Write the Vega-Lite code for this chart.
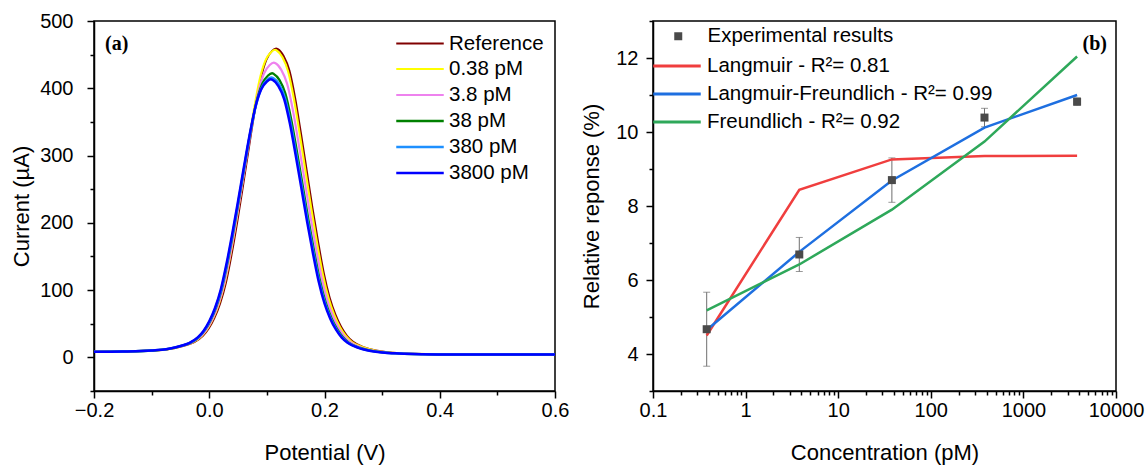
{
  "$schema": "https://vega.github.io/schema/vega-lite/v6.json",
  "background": "white",
  "padding": {"left": 9, "top": 10, "right": 5, "bottom": 5},
  "config": {
    "font": "Liberation Sans",
    "view": {"stroke": "black", "strokeWidth": 1.5},
    "axis": {"domainColor": "black", "domainWidth": 1.5, "tickColor": "black", "tickWidth": 1.5, "labelColor": "black", "titleColor": "black", "labelFont": "Liberation Sans", "titleFont": "Liberation Sans", "labelFontSize": 20, "titleFontSize": 22, "titleFontWeight": "normal", "grid": false, "labelOverlap": false, "labelFlush": false},
    "legend": {"labelFont": "Liberation Sans", "labelColor": "black", "padding": 0, "labelLimit": 500}
  },
  "datasets": {
    "curves": [
      {"sample":"Reference","potential":-0.2,"current":8.2},{"sample":"Reference","potential":-0.141,"current":8.8},{"sample":"Reference","potential":-0.091,"current":10.4},{"sample":"Reference","potential":-0.061,"current":13.5},{"sample":"Reference","potential":-0.041,"current":17.9},{"sample":"Reference","potential":-0.026,"current":22.7},{"sample":"Reference","potential":-0.011,"current":32.0},{"sample":"Reference","potential":-0.001,"current":42.8},{"sample":"Reference","potential":0.009,"current":58.6},{"sample":"Reference","potential":0.019,"current":80.6},{"sample":"Reference","potential":0.029,"current":111.3},{"sample":"Reference","potential":0.039,"current":154.2},{"sample":"Reference","potential":0.049,"current":203.8},{"sample":"Reference","potential":0.059,"current":257.6},{"sample":"Reference","potential":0.069,"current":313.1},{"sample":"Reference","potential":0.079,"current":366.9},{"sample":"Reference","potential":0.089,"current":413.0},{"sample":"Reference","potential":0.099,"current":442.1},{"sample":"Reference","potential":0.109,"current":455.6},{"sample":"Reference","potential":0.116,"current":459.1},{"sample":"Reference","potential":0.119,"current":458.2},{"sample":"Reference","potential":0.129,"current":448.0},{"sample":"Reference","potential":0.139,"current":426.6},{"sample":"Reference","potential":0.149,"current":385.7},{"sample":"Reference","potential":0.159,"current":333.5},{"sample":"Reference","potential":0.169,"current":278.4},{"sample":"Reference","potential":0.179,"current":222.6},{"sample":"Reference","potential":0.189,"current":171.3},{"sample":"Reference","potential":0.199,"current":124.3},{"sample":"Reference","potential":0.209,"current":88.5},{"sample":"Reference","potential":0.219,"current":63.4},{"sample":"Reference","potential":0.229,"current":45.1},{"sample":"Reference","potential":0.239,"current":32.0},{"sample":"Reference","potential":0.249,"current":23.4},{"sample":"Reference","potential":0.269,"current":14.9},{"sample":"Reference","potential":0.289,"current":10.2},{"sample":"Reference","potential":0.309,"current":7.6},{"sample":"Reference","potential":0.339,"current":5.9},{"sample":"Reference","potential":0.379,"current":4.8},{"sample":"Reference","potential":0.429,"current":4.2},{"sample":"Reference","potential":0.5,"current":4.2},{"sample":"Reference","potential":0.6,"current":4.4},
      {"sample":"0.38 pM","potential":-0.2,"current":8.2},{"sample":"0.38 pM","potential":-0.143,"current":8.8},{"sample":"0.38 pM","potential":-0.093,"current":10.4},{"sample":"0.38 pM","potential":-0.063,"current":13.4},{"sample":"0.38 pM","potential":-0.043,"current":17.9},{"sample":"0.38 pM","potential":-0.028,"current":22.6},{"sample":"0.38 pM","potential":-0.013,"current":31.9},{"sample":"0.38 pM","potential":-0.003,"current":42.7},{"sample":"0.38 pM","potential":0.007,"current":58.4},{"sample":"0.38 pM","potential":0.017,"current":80.3},{"sample":"0.38 pM","potential":0.027,"current":110.8},{"sample":"0.38 pM","potential":0.037,"current":153.5},{"sample":"0.38 pM","potential":0.047,"current":202.9},{"sample":"0.38 pM","potential":0.057,"current":256.5},{"sample":"0.38 pM","potential":0.067,"current":311.7},{"sample":"0.38 pM","potential":0.077,"current":365.3},{"sample":"0.38 pM","potential":0.087,"current":411.1},{"sample":"0.38 pM","potential":0.097,"current":440.2},{"sample":"0.38 pM","potential":0.107,"current":453.6},{"sample":"0.38 pM","potential":0.114,"current":457.2},{"sample":"0.38 pM","potential":0.117,"current":456.2},{"sample":"0.38 pM","potential":0.127,"current":446.1},{"sample":"0.38 pM","potential":0.137,"current":424.7},{"sample":"0.38 pM","potential":0.147,"current":384.0},{"sample":"0.38 pM","potential":0.157,"current":332.0},{"sample":"0.38 pM","potential":0.167,"current":277.2},{"sample":"0.38 pM","potential":0.177,"current":221.7},{"sample":"0.38 pM","potential":0.187,"current":170.5},{"sample":"0.38 pM","potential":0.197,"current":123.9},{"sample":"0.38 pM","potential":0.207,"current":88.1},{"sample":"0.38 pM","potential":0.217,"current":63.1},{"sample":"0.38 pM","potential":0.227,"current":44.9},{"sample":"0.38 pM","potential":0.237,"current":31.9},{"sample":"0.38 pM","potential":0.247,"current":23.3},{"sample":"0.38 pM","potential":0.267,"current":14.9},{"sample":"0.38 pM","potential":0.287,"current":10.2},{"sample":"0.38 pM","potential":0.307,"current":7.5},{"sample":"0.38 pM","potential":0.337,"current":5.9},{"sample":"0.38 pM","potential":0.377,"current":4.8},{"sample":"0.38 pM","potential":0.427,"current":4.2},{"sample":"0.38 pM","potential":0.5,"current":4.2},{"sample":"0.38 pM","potential":0.6,"current":4.4},
      {"sample":"3.8 pM","potential":-0.2,"current":8.2},{"sample":"3.8 pM","potential":-0.145,"current":8.7},{"sample":"3.8 pM","potential":-0.095,"current":10.3},{"sample":"3.8 pM","potential":-0.065,"current":13.2},{"sample":"3.8 pM","potential":-0.045,"current":17.4},{"sample":"3.8 pM","potential":-0.03,"current":22.0},{"sample":"3.8 pM","potential":-0.015,"current":30.9},{"sample":"3.8 pM","potential":-0.005,"current":41.2},{"sample":"3.8 pM","potential":0.005,"current":56.3},{"sample":"3.8 pM","potential":0.015,"current":77.3},{"sample":"3.8 pM","potential":0.025,"current":106.5},{"sample":"3.8 pM","potential":0.035,"current":147.4},{"sample":"3.8 pM","potential":0.045,"current":194.7},{"sample":"3.8 pM","potential":0.055,"current":245.9},{"sample":"3.8 pM","potential":0.065,"current":298.9},{"sample":"3.8 pM","potential":0.075,"current":350.1},{"sample":"3.8 pM","potential":0.085,"current":394.0},{"sample":"3.8 pM","potential":0.095,"current":421.9},{"sample":"3.8 pM","potential":0.105,"current":434.6},{"sample":"3.8 pM","potential":0.112,"current":438.0},{"sample":"3.8 pM","potential":0.115,"current":437.2},{"sample":"3.8 pM","potential":0.125,"current":427.4},{"sample":"3.8 pM","potential":0.135,"current":407.0},{"sample":"3.8 pM","potential":0.145,"current":368.0},{"sample":"3.8 pM","potential":0.155,"current":318.2},{"sample":"3.8 pM","potential":0.165,"current":265.7},{"sample":"3.8 pM","potential":0.175,"current":212.5},{"sample":"3.8 pM","potential":0.185,"current":163.5},{"sample":"3.8 pM","potential":0.195,"current":118.8},{"sample":"3.8 pM","potential":0.205,"current":84.6},{"sample":"3.8 pM","potential":0.215,"current":60.7},{"sample":"3.8 pM","potential":0.225,"current":43.2},{"sample":"3.8 pM","potential":0.235,"current":30.7},{"sample":"3.8 pM","potential":0.245,"current":22.5},{"sample":"3.8 pM","potential":0.265,"current":14.4},{"sample":"3.8 pM","potential":0.285,"current":9.9},{"sample":"3.8 pM","potential":0.305,"current":7.4},{"sample":"3.8 pM","potential":0.335,"current":5.8},{"sample":"3.8 pM","potential":0.375,"current":4.7},{"sample":"3.8 pM","potential":0.425,"current":4.2},{"sample":"3.8 pM","potential":0.5,"current":4.2},{"sample":"3.8 pM","potential":0.6,"current":4.4},
      {"sample":"38 pM","potential":-0.2,"current":8.2},{"sample":"38 pM","potential":-0.148,"current":8.7},{"sample":"38 pM","potential":-0.098,"current":10.2},{"sample":"38 pM","potential":-0.068,"current":13.0},{"sample":"38 pM","potential":-0.048,"current":17.1},{"sample":"38 pM","potential":-0.033,"current":21.5},{"sample":"38 pM","potential":-0.018,"current":30.1},{"sample":"38 pM","potential":-0.008,"current":40.0},{"sample":"38 pM","potential":0.002,"current":54.6},{"sample":"38 pM","potential":0.012,"current":74.7},{"sample":"38 pM","potential":0.022,"current":102.9},{"sample":"38 pM","potential":0.032,"current":142.3},{"sample":"38 pM","potential":0.042,"current":187.8},{"sample":"38 pM","potential":0.052,"current":237.3},{"sample":"38 pM","potential":0.062,"current":288.2},{"sample":"38 pM","potential":0.072,"current":337.6},{"sample":"38 pM","potential":0.082,"current":379.8},{"sample":"38 pM","potential":0.092,"current":406.6},{"sample":"38 pM","potential":0.102,"current":419.0},{"sample":"38 pM","potential":0.109,"current":422.3},{"sample":"38 pM","potential":0.112,"current":421.3},{"sample":"38 pM","potential":0.122,"current":412.0},{"sample":"38 pM","potential":0.132,"current":392.3},{"sample":"38 pM","potential":0.142,"current":354.7},{"sample":"38 pM","potential":0.152,"current":306.8},{"sample":"38 pM","potential":0.162,"current":256.2},{"sample":"38 pM","potential":0.172,"current":204.9},{"sample":"38 pM","potential":0.182,"current":157.8},{"sample":"38 pM","potential":0.192,"current":114.7},{"sample":"38 pM","potential":0.202,"current":81.7},{"sample":"38 pM","potential":0.212,"current":58.7},{"sample":"38 pM","potential":0.222,"current":41.9},{"sample":"38 pM","potential":0.232,"current":29.9},{"sample":"38 pM","potential":0.242,"current":21.9},{"sample":"38 pM","potential":0.262,"current":14.0},{"sample":"38 pM","potential":0.282,"current":9.7},{"sample":"38 pM","potential":0.302,"current":7.3},{"sample":"38 pM","potential":0.332,"current":5.7},{"sample":"38 pM","potential":0.372,"current":4.7},{"sample":"38 pM","potential":0.422,"current":4.2},{"sample":"38 pM","potential":0.5,"current":4.2},{"sample":"38 pM","potential":0.6,"current":4.4},
      {"sample":"380 pM","potential":-0.2,"current":8.2},{"sample":"380 pM","potential":-0.149,"current":8.7},{"sample":"380 pM","potential":-0.099,"current":10.2},{"sample":"380 pM","potential":-0.069,"current":12.9},{"sample":"380 pM","potential":-0.049,"current":17.0},{"sample":"380 pM","potential":-0.034,"current":21.3},{"sample":"380 pM","potential":-0.019,"current":29.8},{"sample":"380 pM","potential":-0.009,"current":39.5},{"sample":"380 pM","potential":0.001,"current":53.9},{"sample":"380 pM","potential":0.011,"current":73.8},{"sample":"380 pM","potential":0.021,"current":101.5},{"sample":"380 pM","potential":0.031,"current":140.3},{"sample":"380 pM","potential":0.041,"current":185.2},{"sample":"380 pM","potential":0.051,"current":233.9},{"sample":"380 pM","potential":0.061,"current":284.0},{"sample":"380 pM","potential":0.071,"current":332.7},{"sample":"380 pM","potential":0.081,"current":374.4},{"sample":"380 pM","potential":0.091,"current":400.8},{"sample":"380 pM","potential":0.101,"current":412.9},{"sample":"380 pM","potential":0.108,"current":416.1},{"sample":"380 pM","potential":0.111,"current":415.2},{"sample":"380 pM","potential":0.121,"current":406.1},{"sample":"380 pM","potential":0.131,"current":386.6},{"sample":"380 pM","potential":0.141,"current":349.6},{"sample":"380 pM","potential":0.151,"current":302.4},{"sample":"380 pM","potential":0.161,"current":252.5},{"sample":"380 pM","potential":0.171,"current":202.1},{"sample":"380 pM","potential":0.181,"current":155.5},{"sample":"380 pM","potential":0.191,"current":113.1},{"sample":"380 pM","potential":0.201,"current":80.6},{"sample":"380 pM","potential":0.211,"current":57.9},{"sample":"380 pM","potential":0.221,"current":41.3},{"sample":"380 pM","potential":0.231,"current":29.5},{"sample":"380 pM","potential":0.241,"current":21.7},{"sample":"380 pM","potential":0.261,"current":13.9},{"sample":"380 pM","potential":0.281,"current":9.6},{"sample":"380 pM","potential":0.301,"current":7.2},{"sample":"380 pM","potential":0.331,"current":5.7},{"sample":"380 pM","potential":0.371,"current":4.7},{"sample":"380 pM","potential":0.421,"current":4.2},{"sample":"380 pM","potential":0.5,"current":4.2},{"sample":"380 pM","potential":0.6,"current":4.4},
      {"sample":"3800 pM","potential":-0.2,"current":8.2},{"sample":"3800 pM","potential":-0.15,"current":8.7},{"sample":"3800 pM","potential":-0.1,"current":10.2},{"sample":"3800 pM","potential":-0.07,"current":12.9},{"sample":"3800 pM","potential":-0.05,"current":16.9},{"sample":"3800 pM","potential":-0.035,"current":21.2},{"sample":"3800 pM","potential":-0.02,"current":29.6},{"sample":"3800 pM","potential":-0.01,"current":39.3},{"sample":"3800 pM","potential":0.0,"current":53.6},{"sample":"3800 pM","potential":0.01,"current":73.4},{"sample":"3800 pM","potential":0.02,"current":100.9},{"sample":"3800 pM","potential":0.03,"current":139.4},{"sample":"3800 pM","potential":0.04,"current":184.0},{"sample":"3800 pM","potential":0.05,"current":232.3},{"sample":"3800 pM","potential":0.06,"current":282.2},{"sample":"3800 pM","potential":0.07,"current":330.5},{"sample":"3800 pM","potential":0.08,"current":371.8},{"sample":"3800 pM","potential":0.09,"current":398.1},{"sample":"3800 pM","potential":0.1,"current":410.1},{"sample":"3800 pM","potential":0.107,"current":413.3},{"sample":"3800 pM","potential":0.11,"current":412.4},{"sample":"3800 pM","potential":0.12,"current":403.3},{"sample":"3800 pM","potential":0.13,"current":384.0},{"sample":"3800 pM","potential":0.14,"current":347.2},{"sample":"3800 pM","potential":0.15,"current":300.3},{"sample":"3800 pM","potential":0.16,"current":250.8},{"sample":"3800 pM","potential":0.17,"current":200.7},{"sample":"3800 pM","potential":0.18,"current":154.5},{"sample":"3800 pM","potential":0.19,"current":112.4},{"sample":"3800 pM","potential":0.2,"current":80.1},{"sample":"3800 pM","potential":0.21,"current":57.5},{"sample":"3800 pM","potential":0.22,"current":41.1},{"sample":"3800 pM","potential":0.23,"current":29.3},{"sample":"3800 pM","potential":0.24,"current":21.6},{"sample":"3800 pM","potential":0.26,"current":13.8},{"sample":"3800 pM","potential":0.28,"current":9.6},{"sample":"3800 pM","potential":0.3,"current":7.2},{"sample":"3800 pM","potential":0.33,"current":5.7},{"sample":"3800 pM","potential":0.37,"current":4.7},{"sample":"3800 pM","potential":0.42,"current":4.2},{"sample":"3800 pM","potential":0.5,"current":4.2},{"sample":"3800 pM","potential":0.6,"current":4.4}
    ],
    "exp": [
      {"conc":0.38,"resp":4.67,"err":1.0},
      {"conc":3.8,"resp":6.69,"err":0.46},
      {"conc":38,"resp":8.70,"err":0.6},
      {"conc":380,"resp":10.39,"err":0.25},
      {"conc":3800,"resp":10.82,"err":0.1}
    ],
    "fits": [
      {"model":"Langmuir - R²= 0.81","conc":0.38,"resp":4.5},
      {"model":"Langmuir - R²= 0.81","conc":3.8,"resp":8.44},
      {"model":"Langmuir - R²= 0.81","conc":38,"resp":9.26},
      {"model":"Langmuir - R²= 0.81","conc":380,"resp":9.35},
      {"model":"Langmuir - R²= 0.81","conc":3800,"resp":9.36},
      {"model":"Langmuir-Freundlich - R²= 0.99","conc":0.38,"resp":4.65},
      {"model":"Langmuir-Freundlich - R²= 0.99","conc":3.8,"resp":6.76},
      {"model":"Langmuir-Freundlich - R²= 0.99","conc":38,"resp":8.69},
      {"model":"Langmuir-Freundlich - R²= 0.99","conc":380,"resp":10.12},
      {"model":"Langmuir-Freundlich - R²= 0.99","conc":3800,"resp":11.0},
      {"model":"Freundlich - R²= 0.92","conc":0.38,"resp":5.18},
      {"model":"Freundlich - R²= 0.92","conc":3.8,"resp":6.42},
      {"model":"Freundlich - R²= 0.92","conc":38,"resp":7.9},
      {"model":"Freundlich - R²= 0.92","conc":380,"resp":9.74},
      {"model":"Freundlich - R²= 0.92","conc":3800,"resp":12.04}
    ]
  },
  "bounds": "flush",
  "spacing": 98,
  "resolve": {"scale": {"x": "independent", "y": "independent", "color": "independent", "strokeWidth": "independent", "shape": "independent"}},
  "hconcat": [
    {
      "width": 461,
      "height": 370,
      "title": {"text": "(a)", "orient": "top", "anchor": "start", "frame": "group", "offset": -52.5, "dx": 11, "baseline": "middle", "font": "Liberation Serif", "fontWeight": "bold", "fontSize": 20, "color": "black"},
      "encoding": {
        "x": {"field": "potential", "type": "quantitative",
          "scale": {"domain": [-0.2, 0.6], "nice": false, "zero": false},
          "axis": {"title": "Potential (V)", "values": [-0.2,-0.1,0,0.1,0.2,0.3,0.4,0.5,0.6], "format": ".1f",
            "labelExpr": "abs(round(datum.value*10)) % 2 == 0 ? datum.label : ''",
            "tickSize": {"condition": {"test": "abs(round(datum.value*10)) % 2 == 0", "value": 7}, "value": 4},
            "labelPadding": 2, "titlePadding": 22}},
        "y": {"field": "current", "type": "quantitative",
          "scale": {"domain": [-50, 500], "nice": false, "zero": false},
          "axis": {"title": "Current (µA)", "values": [-50,0,50,100,150,200,250,300,350,400,450,500],
            "labelExpr": "datum.value % 100 == 0 ? datum.label : ''",
            "tickSize": {"condition": {"test": "datum.value % 100 == 0", "value": 7}, "value": 4},
            "labelPadding": 14, "titlePadding": 6}}
      },
      "layer": [
        {
          "data": {"name": "curves"},
          "mark": {"type": "line", "interpolate": "monotone"},
          "encoding": {
            "color": {"field": "sample", "type": "nominal",
              "scale": {"domain": ["Reference","0.38 pM","3.8 pM","38 pM","380 pM","3800 pM"], "range": ["#800000","#FFFF00","#EE82EE","#008000","#1E90FF","#0000FF"]},
              "legend": {"title": null, "orient": "none", "legendX": 315, "legendY": 12, "symbolType": "M -2.5 0 H 2.5", "symbolSize": 361, "symbolStrokeWidth": 3, "labelFontSize": 20.5, "labelOffset": 18, "rowPadding": 4}},
            "strokeWidth": {"field": "sample", "type": "nominal",
              "scale": {"domain": ["Reference","0.38 pM","3.8 pM","38 pM","380 pM","3800 pM"], "range": [2, 2.5, 2.5, 2.5, 2.5, 3.2]},
              "legend": null}
          }
        }
      ]
    },
    {
      "width": 463,
      "height": 370,
      "title": {"text": "(b)", "orient": "top", "anchor": "end", "frame": "group", "offset": -53, "dx": -9, "baseline": "middle", "font": "Liberation Serif", "fontWeight": "bold", "fontSize": 20, "color": "black"},
      "encoding": {
        "x": {"field": "conc", "type": "quantitative",
          "scale": {"type": "log", "domain": [0.1, 10000], "nice": false},
          "axis": {"title": "Concentration (pM)",
            "values": [0.1,0.2,0.3,0.4,0.5,0.6,0.7,0.8,0.9,1,2,3,4,5,6,7,8,9,10,20,30,40,50,60,70,80,90,100,200,300,400,500,600,700,800,900,1000,2000,3000,4000,5000,6000,7000,8000,9000,10000],
            "labelExpr": "indexof([0.1,1,10,100,1000,10000], datum.value) >= 0 ? '' + datum.value : ''",
            "tickSize": {"condition": {"test": "indexof([0.1,1,10,100,1000,10000], datum.value) >= 0", "value": 7}, "value": 4},
            "labelPadding": 2, "titlePadding": 22}},
        "y": {"field": "resp", "type": "quantitative",
          "scale": {"domain": [3, 13], "nice": false, "zero": false},
          "axis": {"title": "Relative reponse (%)", "values": [3,4,5,6,7,8,9,10,11,12,13],
            "labelExpr": "datum.value % 2 == 0 ? datum.label : ''",
            "tickSize": {"condition": {"test": "datum.value % 2 == 0", "value": 7}, "value": 4},
            "labelPadding": 8, "titlePadding": 12}}
      },
      "layer": [
        {
          "data": {"name": "exp"},
          "mark": {"type": "errorbar", "ticks": true, "size": 7, "thickness": 1, "color": "#6e6e6e"},
          "encoding": {"yError": {"field": "err"}}
        },
        {
          "data": {"name": "fits"},
          "mark": {"type": "line", "strokeWidth": 2.5},
          "encoding": {
            "color": {"field": "model", "type": "nominal",
              "scale": {"domain": ["Langmuir - R²= 0.81","Langmuir-Freundlich - R²= 0.99","Freundlich - R²= 0.92"], "range": ["#F03E3E","#1E6FE0","#2EA85A"]},
              "legend": {"title": null, "orient": "none", "legendX": 13, "legendY": 34, "symbolType": "M -2.5 0 H 2.5", "symbolSize": 361, "symbolStrokeWidth": 3, "labelFontSize": 20.5, "labelOffset": 19, "rowPadding": 6}}
          }
        },
        {
          "data": {"name": "exp"},
          "mark": {"type": "point", "shape": "square", "filled": true, "size": 64, "color": "#4a4a4a", "opacity": 1},
          "encoding": {
            "shape": {"datum": "Experimental results", "type": "nominal", "scale": {"range": ["square"]},
              "legend": {"title": null, "orient": "none", "legendX": 15, "legendY": 5, "symbolSize": 64, "symbolFillColor": "#4a4a4a", "symbolStrokeColor": "#4a4a4a", "symbolStrokeWidth": 0, "labelFontSize": 20.5, "labelOffset": 19}}
          }
        }
      ]
    }
  ]
}
